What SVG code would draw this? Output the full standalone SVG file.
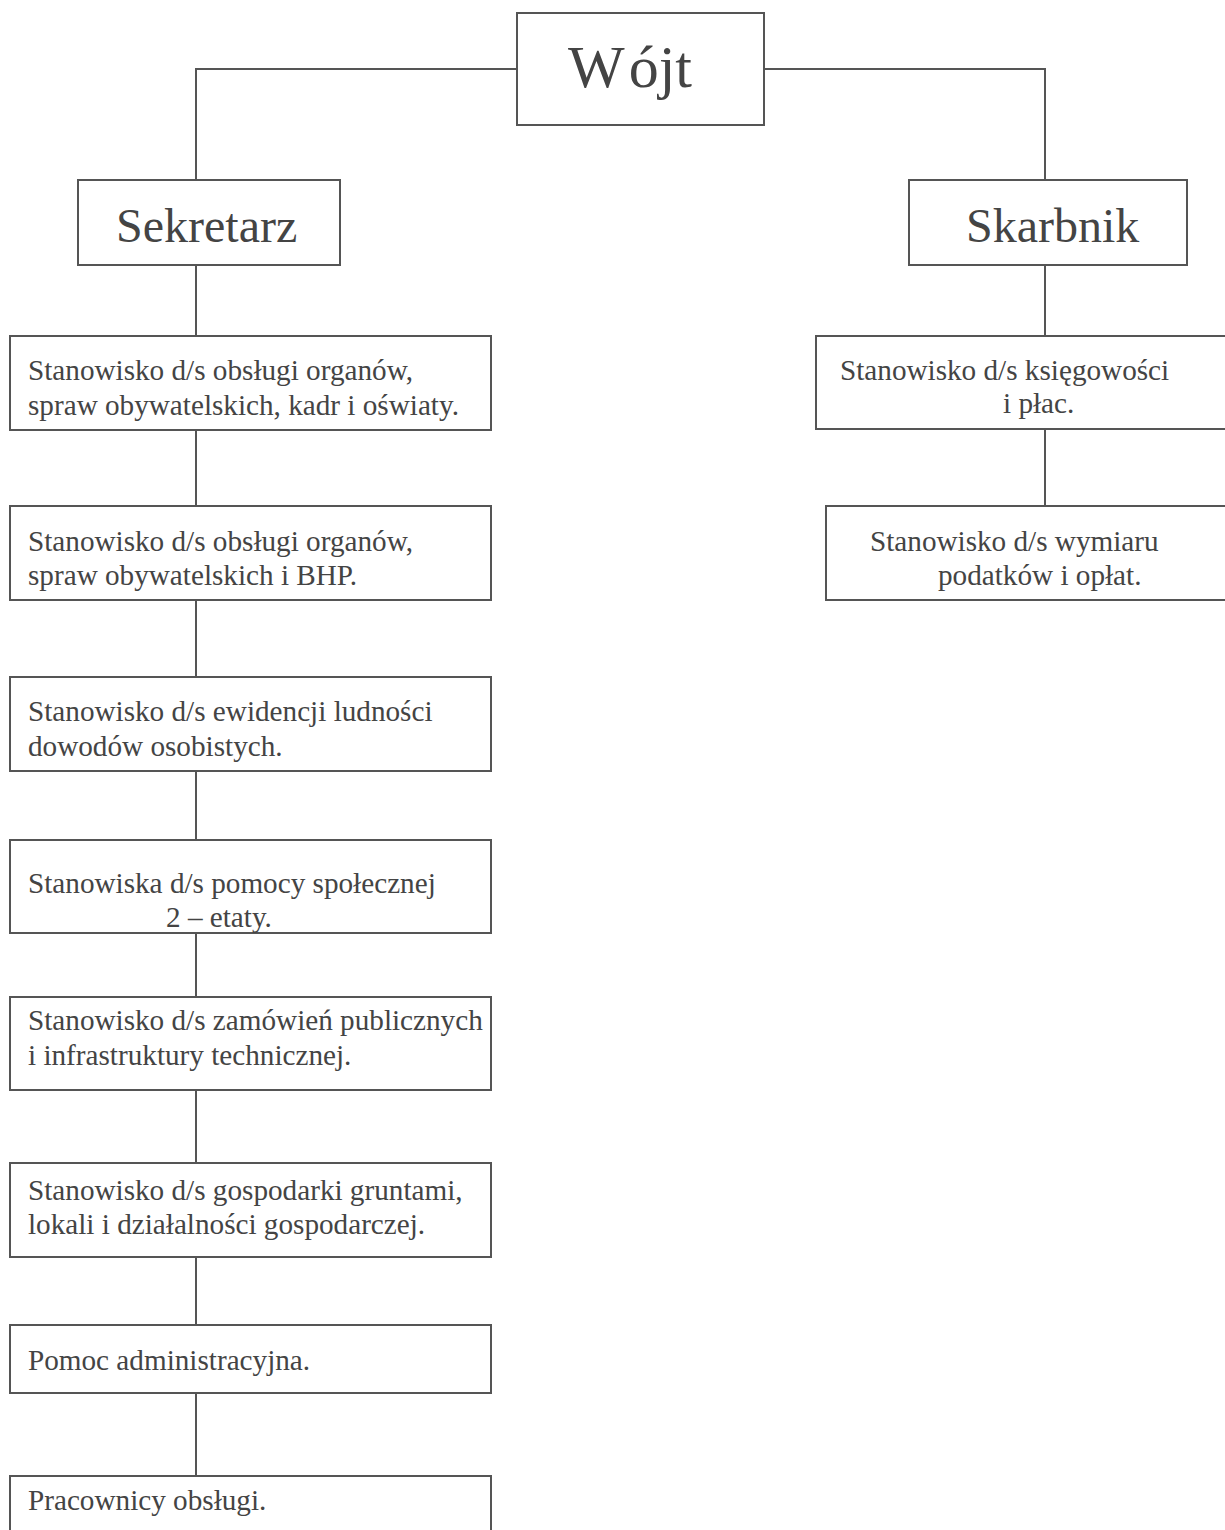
<svg xmlns="http://www.w3.org/2000/svg" width="1225" height="1530" viewBox="0 0 1225 1530">
<style>
.box{fill:#fff;stroke:#555;stroke-width:2}
.ln{fill:none;stroke:#555;stroke-width:2}
text{font-family:"Liberation Serif","Times New Roman",serif;fill:#444}
.t{font-size:29.2px}
.h{font-size:48px}
.w{font-size:60px}
</style>
<rect width="1225" height="1530" fill="#fff"/>
<g id="connectors">
<polyline class="ln" points="517,69 196,69 196,180"/>
<polyline class="ln" points="764,69 1045,69 1045,180"/>
<line class="ln" x1="196" y1="265" x2="196" y2="336"/>
<line class="ln" x1="196" y1="430" x2="196" y2="506"/>
<line class="ln" x1="196" y1="600" x2="196" y2="677"/>
<line class="ln" x1="196" y1="771" x2="196" y2="840"/>
<line class="ln" x1="196" y1="933" x2="196" y2="997"/>
<line class="ln" x1="196" y1="1090" x2="196" y2="1163"/>
<line class="ln" x1="196" y1="1257" x2="196" y2="1325"/>
<line class="ln" x1="196" y1="1393" x2="196" y2="1476"/>
<line class="ln" x1="1045" y1="265" x2="1045" y2="336"/>
<line class="ln" x1="1045" y1="429" x2="1045" y2="506"/>
</g>
<g id="wojt"><rect class="box" x="517" y="13" width="247" height="112"/><text class="w" x="568" y="87">W<tspan dx="4">ójt</tspan></text></g>
<g id="sekretarz"><rect class="box" x="78" y="180" width="262" height="85"/><text class="h" x="116" y="242">Sekretarz</text></g>
<g id="skarbnik"><rect class="box" x="909" y="180" width="278" height="85"/><text class="h" x="966" y="242">Skarbnik</text></g>
<g id="s1"><rect class="box" x="10" y="336" width="481" height="94"/><text class="t" x="28" y="380">Stanowisko d/s obsługi organów,</text><text class="t" x="28" y="415">spraw obywatelskich, kadr i oświaty.</text></g>
<g id="s2"><rect class="box" x="10" y="506" width="481" height="94"/><text class="t" x="28" y="551">Stanowisko d/s obsługi organów,</text><text class="t" x="28" y="585">spraw obywatelskich i BHP.</text></g>
<g id="s3"><rect class="box" x="10" y="677" width="481" height="94"/><text class="t" x="28" y="721">Stanowisko d/s ewidencji ludności</text><text class="t" x="28" y="756">dowodów osobistych.</text></g>
<g id="s4"><rect class="box" x="10" y="840" width="481" height="93"/><text class="t" x="28" y="893">Stanowiska d/s pomocy społecznej</text><text class="t" x="166" y="927">2 – etaty.</text></g>
<g id="s5"><rect class="box" x="10" y="997" width="481" height="93"/><text class="t" x="28" y="1030">Stanowisko d/s zamówień publicznych</text><text class="t" x="28" y="1065">i infrastruktury technicznej.</text></g>
<g id="s6"><rect class="box" x="10" y="1163" width="481" height="94"/><text class="t" x="28" y="1200">Stanowisko d/s gospodarki gruntami,</text><text class="t" x="28" y="1234">lokali i działalności gospodarczej.</text></g>
<g id="s7"><rect class="box" x="10" y="1325" width="481" height="68"/><text class="t" x="28" y="1370">Pomoc administracyjna.</text></g>
<g id="s8"><rect class="box" x="10" y="1476" width="481" height="70"/><text class="t" x="28" y="1510">Pracownicy obsługi.</text></g>
<g id="r1"><rect class="box" x="816" y="336" width="420" height="93"/><text class="t" x="840" y="380">Stanowisko d/s księgowości</text><text class="t" x="1003" y="413">i płac.</text></g>
<g id="r2"><rect class="box" x="826" y="506" width="410" height="94"/><text class="t" x="870" y="551">Stanowisko d/s wymiaru</text><text class="t" x="938" y="585">podatków i opłat.</text></g>
</svg>
